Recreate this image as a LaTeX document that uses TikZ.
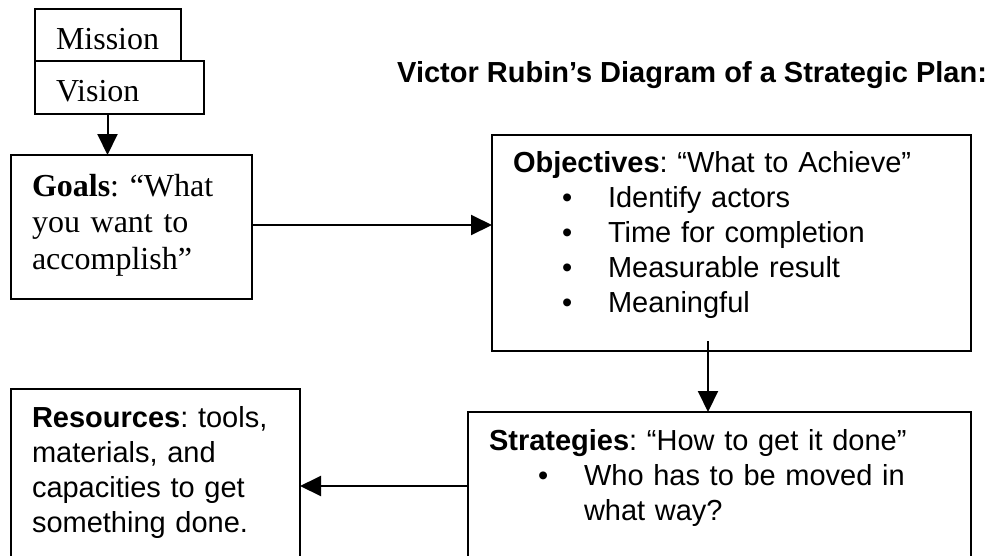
\documentclass[tikz,border=0pt]{standalone}
\usepackage{fontspec}
\usepackage{tikz}
\usetikzlibrary{arrows.meta}
\newfontfamily\timesfont{Liberation Serif}
\newfontfamily\arialfont{Liberation Sans}
\newcommand{\bulletitem}{\hspace*{49pt}\makebox[46pt][l]{\textbullet}}
\tikzset{
    %Define standard arrow tip
    >={Triangle[length=21pt,width=20pt]},
    %Define style for boxes
    plan/.style={
           rectangle,
           draw=black, line width=2pt,
           anchor=north west,
           outer sep=0pt,
           inner xsep=21pt, inner ysep=0pt,
           align=left,
           font=\timesfont\fontsize{32}{36.5}\selectfont\frenchspacing},
    planrect/.style={
           plan,
           font=\arialfont\fontsize{29}{35}\selectfont\frenchspacing},
    heading/.style={
           anchor=base west,
           inner sep=0pt,
           font=\arialfont\bfseries\fontsize{29}{35}\selectfont},
    % Define arrow style
    pil/.style={
           ->,
           line width=2pt}
}
\begin{document}
\begin{tikzpicture}[x=1pt,y=-1pt]
\useasboundingbox (0,0) rectangle (995,555);
\clip (0,0) rectangle (995,555);
\node[plan, text width=104pt, text height=40.6pt, text depth=11.4pt](1) at (35,9){Mission};
\node[plan, text width=127pt, text height=40.6pt, text depth=12.4pt](2) at (35,61){Vision};
\node[plan, text width=199pt, text height=41pt, text depth=103pt](3) at (11,155){\textbf{Goals}: “What\\ you want to\\ accomplish”};
\node[planrect, text width=437pt, text height=37.5pt, text depth=178.5pt](4) at (492,134.5){\textbf{Objectives}: “What to Achieve”\\
    \bulletitem Identify actors\\
    \bulletitem Time for completion\\
    \bulletitem Measurable result\\
    \bulletitem Meaningful};
\node[planrect, text width=461pt, text height=38pt, text depth=120pt](5) at (468,412){\textbf{Strategies}: “How to get it done”\\
    \bulletitem Who has to be moved in\\
    \hspace*{95pt}what way?};
\node[planrect, text width=247pt, text height=38pt, text depth=143pt](6) at (11,389){\textbf{Resources}: tools,\\ materials, and\\ capacities to get\\ something done.};
\node[heading](7) at (397,82){Victor Rubin’s Diagram of a Strategic Plan:};
\coordinate (a) at ([xshift=-12pt]2.south);
\coordinate (c) at ([yshift=2pt]3.east);
\coordinate (b) at ([xshift=-23.5pt,yshift=9.5pt]4.south);
\coordinate (d) at ([yshift=-74pt]5.north west);
\path[pil]
	(a) edge (a |- 3.north)
	(c) edge (c -| 4.west)
	(b) edge (b |- 5.north)
	(d) edge (d -| 6.east);
\end{tikzpicture}
\end{document}
